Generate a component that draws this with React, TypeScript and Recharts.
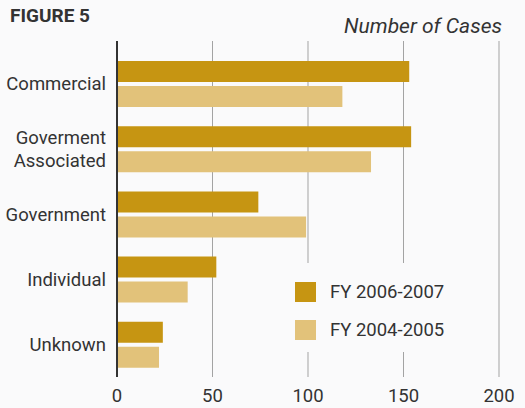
import React from "react";
import { BarChart, Bar, XAxis, YAxis, CartesianGrid, Legend } from "recharts";

const categories = ["Commercial", "Goverment Associated", "Government", "Individual", "Unknown"];
const fy2006 = [153, 154, 74, 52, 24];
const fy2004 = [118, 133, 99, 37, 22];
const xTicks = [0, 50, 100, 150, 200];
const seriesNames = ["FY 2006-2007", "FY 2004-2005"];

const data = categories.map((c, i) => ({ name: c, a: fy2006[i], b: fy2004[i] }));

const DARK = "#C69512";
const LIGHT = "#E2C27A";
const BG = "#FAFAFB";
const FONT = "Roboto, 'Noto Sans', sans-serif";

const YTick = (props: any) => {
  const { x, y, payload } = props;
  const words = String(payload.value).split(" ");
  if (words.length === 1) {
    return (
      <text x={x} y={y} dy="0.36em" textAnchor="end" fontFamily={FONT} fontSize={18.5} fill="#333">
        {words[0]}
      </text>
    );
  }
  return (
    <text x={x} y={y} textAnchor="end" fontFamily={FONT} fontSize={18.5} fill="#333">
      <tspan x={x} dy={-11.5 + 6.5}>{words[0]}</tspan>
      <tspan x={x} dy={23}>{words.slice(1).join(" ")}</tspan>
    </text>
  );
};

const LegendContent = (props: any) => {
  const payload = [...(props.payload || [])].sort(
    (p: any, q: any) => seriesNames.indexOf(p.value) - seriesNames.indexOf(q.value)
  );
  return (
    <div style={{ background: BG, width: 170, height: 89, position: "relative" }}>
      {payload.map((p: any, i: number) => (
        <div
          key={i}
          style={{ position: "absolute", left: 10, top: 19 + i * 38, display: "flex", alignItems: "center" }}
        >
          <div style={{ width: 21, height: 20, background: p.color }} />
          <span style={{ marginLeft: 14, fontFamily: FONT, fontSize: 18.5, color: "#333", lineHeight: "20px" }}>
            {p.value}
          </span>
        </div>
      ))}
    </div>
  );
};

export default function App() {
  return (
    <div style={{ position: "absolute", left: 0, top: 0, width: 525, height: 408, background: BG }}>
      <div
        style={{
          position: "absolute",
          left: 10,
          top: 5,
          fontFamily: FONT,
          fontWeight: 700,
          fontSize: 19,
          color: "#333",
          lineHeight: "22px",
        }}
      >
        FIGURE 5
      </div>
      <div
        style={{
          position: "absolute",
          right: 23,
          top: 13,
          fontFamily: FONT,
          fontStyle: "italic",
          fontSize: 21,
          color: "#333",
          lineHeight: "26px",
        }}
      >
        Number of Cases
      </div>
      <div style={{ position: "absolute", left: 0, top: 0 }}>
        <BarChart
          width={525}
          height={408}
          data={data}
          layout="vertical"
          margin={{ top: 41, right: 26, left: 0, bottom: 0 }}
          barSize={21}
          barGap={4}
        >
          <CartesianGrid horizontal={false} stroke="#a3a3a3" strokeWidth={1} />
          <XAxis
            type="number"
            domain={[0, 200]}
            ticks={xTicks}
            axisLine={false}
            tickLine={false}
            tickSize={6}
            tickMargin={6}
            height={31}
            tick={{ fontFamily: FONT, fontSize: 18.5, fill: "#333" }}
          />
          <YAxis
            type="category"
            dataKey="name"
            width={117}
            padding={{ top: 10, bottom: 0 }}
            axisLine={{ stroke: "#333", strokeWidth: 2 }}
            tickLine={false}
            tickSize={0}
            tickMargin={11}
            tick={<YTick />}
            interval={0}
          />
          <Legend
            layout="vertical"
            align="center"
            verticalAlign="middle"
            wrapperStyle={{ left: 285, top: 263, width: 170, height: 89 }}
            content={<LegendContent />}
          />
          <Bar dataKey="a" name={seriesNames[0]} fill={DARK} isAnimationActive={false} />
          <Bar dataKey="b" name={seriesNames[1]} fill={LIGHT} isAnimationActive={false} />
        </BarChart>
      </div>
    </div>
  );
}
